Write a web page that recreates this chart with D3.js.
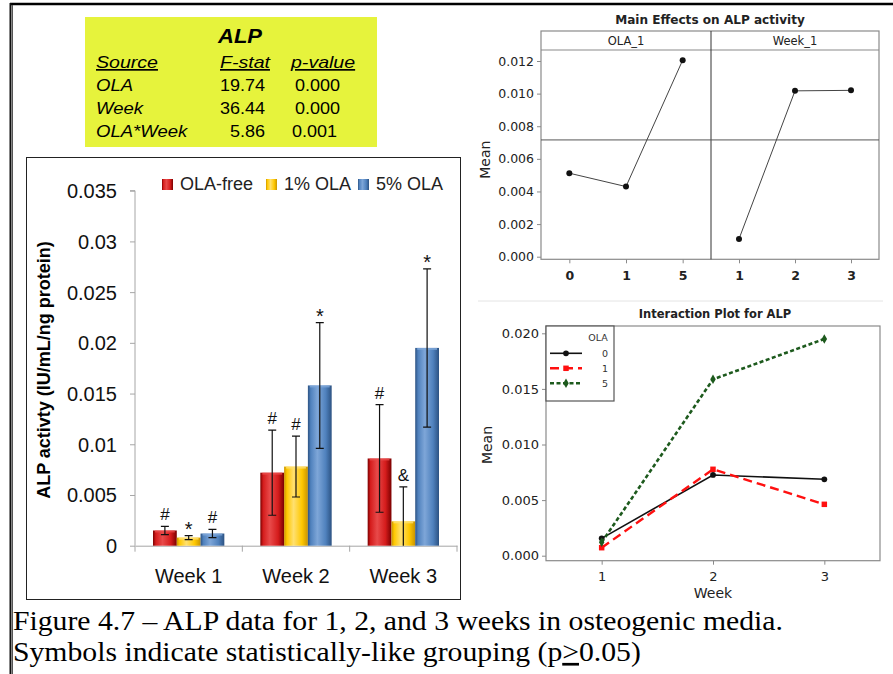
<!DOCTYPE html>
<html>
<head>
<meta charset="utf-8">
<script src="https://cdn.jsdelivr.net/npm/d3@7"></script>
<style>
  body { margin: 0; background: #fff; }
  svg { display: block; }
</style>
</head>
<body>
<svg id="fig" width="893" height="674"></svg>
<script>
// ANOVA table
const anovaSources = ['OLA', 'Week', 'OLA*Week'];
const fStats = ['19.74', '36.44', '5.86'];
const pValues = ['0.000', '0.000', '0.001'];

// bar chart
const weeks = ['Week 1', 'Week 2', 'Week 3'];
const groups = ['OLA-free', '1% OLA', '5% OLA'];
const olaFree = [0.0015, 0.0072, 0.0086];
const ola1 = [0.0008, 0.0078, 0.0024];
const ola5 = [0.0012, 0.0158, 0.0195];
const errFree = [0.0004, 0.0042, 0.0053];
const errOla1 = [0.0002, 0.0030, 0.0034];
const errOla5 = [0.0004, 0.0062, 0.0078];
const marksFree = ['#', '#', '#'];
const marksOla1 = ['*', '#', '&'];
const marksOla5 = ['#', '*', '*'];
const barTicks = [0, 0.005, 0.01, 0.015, 0.02, 0.025, 0.03, 0.035];

// main effects plot
const olaLevels = ['0', '1', '5'];
const olaMeans = [0.00512, 0.0043, 0.01205];
const weekLevels = ['1', '2', '3'];
const weekMeans = [0.00109, 0.01017, 0.0102];
const grandMean = 0.00716;
const mainTicks = [0, 0.002, 0.004, 0.006, 0.008, 0.010, 0.012];

// interaction plot
const interWeeks = ['1', '2', '3'];
const interOla = ['0', '1', '5'];
const inter0 = [0.00156, 0.00726, 0.00687];
const inter1 = [0.00072, 0.00777, 0.00462];
const inter5 = [0.0012, 0.01586, 0.01949];
const interTicks = [0, 0.005, 0.010, 0.015, 0.020];

const svg = d3.select('#fig');
const defs = svg.append('defs');

// widen text a bit, the source picture is stretched sideways
function stretch(sel, k) {
  sel.each(function () {
    const len = this.getComputedTextLength();
    d3.select(this).attr('textLength', len * k).attr('lengthAdjust', 'spacingAndGlyphs');
  });
}

// outer frame
svg.append('line').attr('x1', 10).attr('x2', 893).attr('y1', 4).attr('y2', 4)
  .attr('stroke', '#000').attr('stroke-width', 2.5);
svg.append('line').attr('x1', 10.5).attr('x2', 10.5).attr('y1', 3).attr('y2', 674)
  .attr('stroke', '#111').attr('stroke-width', 2);
svg.append('line').attr('x1', 12.5).attr('x2', 12.5).attr('y1', 5).attr('y2', 674)
  .attr('stroke', '#555').attr('stroke-width', 1);

// ---------- ANOVA table ----------
const tbl = svg.append('g');
tbl.append('rect').attr('x', 85).attr('y', 17).attr('width', 292).attr('height', 130)
  .attr('fill', '#e6f33c');
tbl.append('text').attr('x', 240).attr('y', 43).attr('text-anchor', 'middle')
  .attr('font-family', 'Liberation Sans, Arial').attr('font-size', 20)
  .attr('font-weight', 'bold').attr('font-style', 'italic').text('ALP')
  .call(stretch, 1.1);
const hdr = [['Source', 96], ['F-stat', 220], ['p-value', 291]];
tbl.selectAll('.hdr').data(hdr).join('text')
  .attr('class', 'hdr')
  .attr('x', d => d[1]).attr('y', 68)
  .attr('font-family', 'Liberation Sans, Arial').attr('font-size', 17)
  .attr('font-style', 'italic').attr('text-decoration', 'underline')
  .text(d => d[0])
  .call(stretch, 1.15);
const rowY = d3.scalePoint().domain(anovaSources).range([91, 137]);
tbl.selectAll('.src').data(anovaSources).join('text')
  .attr('class', 'src')
  .attr('x', 96).attr('y', d => rowY(d))
  .attr('font-family', 'Liberation Sans, Arial').attr('font-size', 17)
  .attr('font-style', 'italic').text(d => d)
  .call(stretch, 1.09);
tbl.selectAll('.fst').data(fStats).join('text')
  .attr('class', 'fst')
  .attr('x', 265).attr('y', (d, i) => rowY(anovaSources[i]))
  .attr('text-anchor', 'end')
  .attr('font-family', 'Liberation Sans, Arial').attr('font-size', 17).text(d => d)
  .call(stretch, 1.06);
tbl.selectAll('.pv').data(pValues).join('text')
  .attr('class', 'pv')
  .attr('x', (d, i) => i === 2 ? 292 : 295).attr('y', (d, i) => rowY(anovaSources[i]))
  .attr('font-family', 'Liberation Sans, Arial').attr('font-size', 17).text(d => d)
  .call(stretch, 1.06);

// ---------- bar chart ----------
const bar = svg.append('g');
bar.append('rect').attr('x', 26.5).attr('y', 157.5).attr('width', 434).attr('height', 442)
  .attr('fill', 'none').attr('stroke', '#222').attr('stroke-width', 1);

const colors = [
  { edge: '#7a0000', mid: '#d51c1c', light: '#e84a4a' },
  { edge: '#c99400', mid: '#ffc800', light: '#ffe070' },
  { edge: '#2c5282', mid: '#4f81bd', light: '#7ea6d8' }
];
colors.forEach((c, i) => {
  const g = defs.append('linearGradient').attr('id', 'bg' + i)
    .attr('x1', 0).attr('x2', 1).attr('y1', 0).attr('y2', 0);
  g.append('stop').attr('offset', 0).attr('stop-color', c.edge);
  g.append('stop').attr('offset', 0.12).attr('stop-color', c.mid);
  g.append('stop').attr('offset', 0.4).attr('stop-color', c.light);
  g.append('stop').attr('offset', 0.75).attr('stop-color', c.mid);
  g.append('stop').attr('offset', 1).attr('stop-color', c.edge);
});

const x0 = d3.scaleBand().domain(weeks).range([135, 457]);
const x1 = d3.scaleBand().domain(groups).range([18, x0.bandwidth() - 18]);
const yb = d3.scaleLinear().domain([0, 0.035]).range([545.7, 190.7]);

const series = [
  { name: groups[0], vals: olaFree, err: errFree, marks: marksFree },
  { name: groups[1], vals: ola1, err: errOla1, marks: marksOla1 },
  { name: groups[2], vals: ola5, err: errOla5, marks: marksOla5 }
];
const barData = [];
series.forEach((s, si) => weeks.forEach((w, wi) => barData.push({
  week: w, group: s.name, si, v: s.vals[wi], e: s.err[wi], m: s.marks[wi]
})));

bar.append('g').attr('transform', 'translate(135,0)')
  .call(d3.axisLeft(yb).tickValues(barTicks).tickSize(5).tickFormat(d => String(+d.toFixed(3))))
  .call(g => g.selectAll('line,path').attr('stroke', '#a6a6a6'))
  .call(g => g.select('.domain').attr('d', `M-5,${yb(0.035)}H0V${yb(0)}`))
  .call(g => g.selectAll('text').attr('x', -18).attr('dy', '0.35em')
    .attr('font-family', 'Liberation Sans, Arial').attr('font-size', 20).attr('fill', '#111'));

bar.append('g').attr('transform', `translate(0,${yb(0)})`)
  .call(d3.axisBottom(x0).tickSize(0).tickFormat(''))
  .call(g => g.select('.domain').attr('stroke', '#a6a6a6'));
bar.selectAll('.wtick').data([...weeks.map(w => x0(w)), 457]).join('line')
  .attr('class', 'wtick')
  .attr('x1', d => d).attr('x2', d => d).attr('y1', yb(0)).attr('y2', yb(0) + 6)
  .attr('stroke', '#a6a6a6');
bar.selectAll('.wlab').data(weeks).join('text')
  .attr('class', 'wlab')
  .attr('x', d => x0(d) + x0.bandwidth() / 2).attr('y', 583)
  .attr('text-anchor', 'middle')
  .attr('font-family', 'Liberation Sans, Arial').attr('font-size', 20).attr('fill', '#111')
  .text(d => d);

bar.selectAll('.bar').data(barData).join('rect')
  .attr('class', 'bar')
  .attr('x', d => x0(d.week) + x1(d.group))
  .attr('y', d => yb(d.v))
  .attr('width', x1.bandwidth())
  .attr('height', d => yb(0) - yb(d.v))
  .attr('fill', d => `url(#bg${d.si})`);
// top bevel
bar.selectAll('.bev').data(barData).join('rect')
  .attr('class', 'bev')
  .attr('x', d => x0(d.week) + x1(d.group) + 2)
  .attr('y', d => yb(d.v))
  .attr('width', x1.bandwidth() - 4)
  .attr('height', 2)
  .attr('fill', d => colors[d.si].light).attr('opacity', 0.8);

const cx = d => x0(d.week) + x1(d.group) + x1.bandwidth() / 2;
bar.selectAll('.err').data(barData).join('path')
  .attr('class', 'err')
  .attr('d', d => {
    const top = yb(d.v + d.e), bot = yb(Math.max(0, d.v - d.e)), c = cx(d);
    return `M${c - 4},${top}H${c + 4}M${c},${top}V${bot}` + (d.v - d.e > 0 ? `M${c - 4},${bot}H${c + 4}` : '');
  })
  .attr('fill', 'none').attr('stroke', '#111').attr('stroke-width', 1.2);

bar.selectAll('.mark').data(barData).join('text')
  .attr('class', 'mark')
  .attr('x', cx)
  .attr('y', d => yb(d.v + d.e) - (d.m === '*' ? 0 : 6))
  .attr('text-anchor', 'middle')
  .attr('font-family', 'Liberation Sans, Arial')
  .attr('font-size', d => d.m === '*' ? 20 : 17)
  .attr('fill', '#111')
  .text(d => d.m);

const leg = bar.append('g');
const legX = d3.scaleOrdinal().domain(groups).range([162, 266, 358]);
leg.selectAll('rect').data(groups).join('rect')
  .attr('x', d => legX(d)).attr('y', 179).attr('width', 11).attr('height', 11)
  .attr('fill', (d, i) => `url(#bg${i})`);
leg.selectAll('text').data(groups).join('text')
  .attr('x', d => legX(d) + 18).attr('y', 190)
  .attr('font-family', 'Liberation Sans, Arial').attr('font-size', 18).attr('fill', '#222')
  .text(d => d);

bar.append('text')
  .attr('transform', 'translate(50,370) rotate(-90)')
  .attr('text-anchor', 'middle')
  .attr('font-family', 'Liberation Sans, Arial').attr('font-size', 18).attr('font-weight', 'bold')
  .text('ALP activty (IU/mL/ng protein)');

// ---------- main effects plot ----------
const me = svg.append('g');
const meFont = 'DejaVu Sans, Verdana, sans-serif';
const meL = 541, meR = 879, meMid = 711, meTop = 31, meStrip = 50, meBot = 259.3;
const ym = d3.scaleLinear().domain([0, 0.012]).range([256.7, 61]);
const xmOla = d3.scalePoint().domain(olaLevels).range([meL, meMid]).padding(0.5);
const xmWeek = d3.scalePoint().domain(weekLevels).range([meMid, meR]).padding(0.5);

me.append('text').attr('x', 710).attr('y', 24).attr('text-anchor', 'middle')
  .attr('font-family', meFont).attr('font-size', 11.5).attr('font-weight', 'bold')
  .attr('fill', '#222').text('Main Effects on ALP activity')
  .call(stretch, 1.05);
me.append('rect').attr('x', meL).attr('y', meTop).attr('width', meR - meL).attr('height', meBot - meTop)
  .attr('fill', 'none').attr('stroke', '#8a8a8a').attr('stroke-width', 1.2);
me.append('line').attr('x1', meL).attr('x2', meR).attr('y1', meStrip).attr('y2', meStrip)
  .attr('stroke', '#8a8a8a').attr('stroke-width', 1.2);
me.append('line').attr('x1', meMid).attr('x2', meMid).attr('y1', meTop).attr('y2', meBot)
  .attr('stroke', '#333').attr('stroke-width', 1);
me.selectAll('.strip').data([['OLA_1', (meL + meMid) / 2], ['Week_1', (meMid + meR) / 2]]).join('text')
  .attr('class', 'strip')
  .attr('x', d => d[1]).attr('y', 45).attr('text-anchor', 'middle')
  .attr('font-family', meFont).attr('font-size', 11.5).attr('fill', '#222').text(d => d[0]);
me.append('line').attr('x1', meL).attr('x2', meR).attr('y1', ym(grandMean)).attr('y2', ym(grandMean))
  .attr('stroke', '#555').attr('stroke-width', 1);

me.append('g').attr('transform', `translate(${meL},0)`)
  .call(d3.axisLeft(ym).tickValues(mainTicks).tickSize(4).tickFormat(d3.format('.3f')))
  .call(g => g.select('.domain').remove())
  .call(g => g.selectAll('line').attr('stroke', '#8a8a8a'))
  .call(g => g.selectAll('text').attr('font-family', meFont).attr('font-size', 12.5).attr('fill', '#222'));
[xmOla, xmWeek].forEach(sc => {
  me.append('g').attr('transform', `translate(0,${meBot})`)
    .call(d3.axisBottom(sc).tickSize(4).tickPadding(8))
    .call(g => g.select('.domain').remove())
    .call(g => g.selectAll('line').attr('stroke', '#8a8a8a'))
    .call(g => g.selectAll('text').attr('font-family', meFont).attr('font-size', 12.5)
      .attr('font-weight', 'bold').attr('fill', '#222'));
});
me.append('text').attr('transform', `translate(490,${(meStrip + meBot) / 2 + 5}) rotate(-90)`)
  .attr('text-anchor', 'middle').attr('font-family', meFont).attr('font-size', 14)
  .attr('fill', '#222').text('Mean');

const mePanels = [
  { sc: xmOla, lv: olaLevels, vals: olaMeans },
  { sc: xmWeek, lv: weekLevels, vals: weekMeans }
];
mePanels.forEach(p => {
  const pts = p.lv.map((l, i) => [p.sc(l), ym(p.vals[i])]);
  me.append('path').attr('d', d3.line()(pts)).attr('fill', 'none')
    .attr('stroke', '#444').attr('stroke-width', 1);
  me.selectAll(null).data(pts).join('circle')
    .attr('cx', d => d[0]).attr('cy', d => d[1]).attr('r', 3).attr('fill', '#111');
});

// ---------- interaction plot ----------
const ip = svg.append('g');
const ipL = 546, ipR = 880, ipTop = 326, ipBot = 560.7;
const yi = d3.scaleLinear().domain([0, 0.020]).range([555.7, 333.3]);
const xi = d3.scalePoint().domain(interWeeks).range([ipL, ipR]).padding(0.5);

ip.append('line').attr('x1', 478).attr('x2', 883).attr('y1', 301).attr('y2', 301)
  .attr('stroke', '#e4e4e4').attr('stroke-width', 1);
ip.append('text').attr('x', 715).attr('y', 318).attr('text-anchor', 'middle')
  .attr('font-family', meFont).attr('font-size', 11.5).attr('font-weight', 'bold')
  .attr('fill', '#222').text('Interaction Plot for ALP');
ip.append('rect').attr('x', ipL).attr('y', ipTop).attr('width', ipR - ipL).attr('height', ipBot - ipTop)
  .attr('fill', 'none').attr('stroke', '#8a8a8a').attr('stroke-width', 1.2);
ip.append('g').attr('transform', `translate(${ipL},0)`)
  .call(d3.axisLeft(yi).tickValues(interTicks).tickSize(4).tickFormat(d3.format('.3f')))
  .call(g => g.select('.domain').remove())
  .call(g => g.selectAll('line').attr('stroke', '#8a8a8a'))
  .call(g => g.selectAll('text').attr('font-family', meFont).attr('font-size', 13).attr('fill', '#222'));
ip.append('g').attr('transform', `translate(0,${ipBot})`)
  .call(d3.axisBottom(xi).tickSize(4).tickPadding(7))
  .call(g => g.select('.domain').remove())
  .call(g => g.selectAll('line').attr('stroke', '#8a8a8a'))
  .call(g => g.selectAll('text').attr('font-family', meFont).attr('font-size', 13).attr('fill', '#222'));
ip.append('text').attr('x', 713).attr('y', 598).attr('text-anchor', 'middle')
  .attr('font-family', meFont).attr('font-size', 14).attr('fill', '#222').text('Week');
ip.append('text').attr('transform', `translate(492,445) rotate(-90)`)
  .attr('text-anchor', 'middle').attr('font-family', meFont).attr('font-size', 14)
  .attr('fill', '#222').text('Mean');

const styles = [
  { vals: inter0, color: '#111', dash: null, width: 1.6, shape: d3.symbolCircle, size: 26 },
  { vals: inter1, color: '#ff1010', dash: '9,5', width: 2.4, shape: d3.symbolSquare, size: 30 },
  { vals: inter5, color: '#1d5a1d', dash: '4,2.5', width: 2.6, shape: d3.symbolDiamond, size: 26 }
];
styles.forEach(s => {
  const pts = interWeeks.map((w, i) => [xi(w), yi(s.vals[i])]);
  ip.append('path').attr('d', d3.line()(pts)).attr('fill', 'none')
    .attr('stroke', s.color).attr('stroke-width', s.width)
    .attr('stroke-dasharray', s.dash);
  ip.selectAll(null).data(pts).join('path')
    .attr('transform', d => `translate(${d[0]},${d[1]})`)
    .attr('d', d3.symbol(s.shape, s.size)).attr('fill', s.color);
});

// legend
const il = ip.append('g');
il.append('rect').attr('x', ipL).attr('y', ipTop).attr('width', 68).attr('height', 75)
  .attr('fill', '#fff').attr('stroke', '#555').attr('stroke-width', 1.2);
il.append('text').attr('x', 598).attr('y', 341).attr('text-anchor', 'middle')
  .attr('font-family', meFont).attr('font-size', 9.5).attr('fill', '#333').text('OLA');
const legY = d3.scalePoint().domain(interOla).range([353.3, 383.3]);
interOla.forEach((o, i) => {
  const s = styles[i], y = legY(o);
  il.append('line').attr('x1', 550).attr('x2', 582).attr('y1', y).attr('y2', y)
    .attr('stroke', s.color).attr('stroke-width', s.width).attr('stroke-dasharray', s.dash);
  il.append('path').attr('transform', `translate(566,${y})`)
    .attr('d', d3.symbol(s.shape, s.size)).attr('fill', s.color);
  il.append('text').attr('x', 605).attr('y', y + 3.5).attr('text-anchor', 'middle')
    .attr('font-family', meFont).attr('font-size', 9.5).attr('fill', '#333').text(o);
});

// ---------- caption ----------
const cap = svg.append('g').attr('transform', 'translate(13,0) scale(1.1,1)')
  .attr('font-family', 'Liberation Serif, Times New Roman, serif')
  .attr('font-size', 27).attr('fill', '#000');
cap.append('text').attr('x', 0).attr('y', 630)
  .text('Figure 4.7 \u2013 ALP data for 1, 2, and 3 weeks in osteogenic media.');
const c2 = cap.append('text').attr('x', 0).attr('y', 661);
c2.append('tspan').text('Symbols indicate statistically-like grouping (p');
c2.append('tspan').attr('text-decoration', 'underline').text('>');
c2.append('tspan').text('0.05)');
</script>
</body>
</html>
